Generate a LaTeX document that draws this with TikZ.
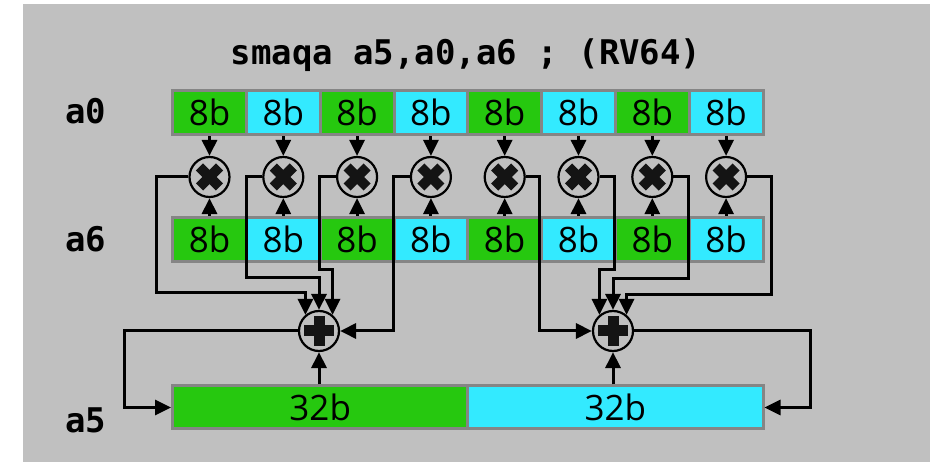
\documentclass[tikz,border=0pt]{standalone}
\usepackage{fontspec}
\setmainfont{Open Sans}
\newfontfamily\codefont{DejaVu Sans Mono}
\usetikzlibrary{arrows.meta,calc}
\definecolor{bg}{HTML}{C0C0C0}
\definecolor{cgreen}{HTML}{26C80F}
\definecolor{ccyan}{HTML}{33EAFF}
\definecolor{cborder}{HTML}{858585}
\begin{document}
\begin{tikzpicture}[x=1pt,y=-1pt,
  cell/.style={draw=cborder, line width=3pt, minimum width=73.8pt, minimum height=44pt,
    inner sep=0pt, font=\fontsize{35}{35}\selectfont},
  bigcell/.style={cell, minimum width=295.2pt, minimum height=43pt},
  lbl/.style={font=\codefont\bfseries\fontsize{34}{34}\selectfont, inner sep=0pt},
  wire/.style={line width=3pt, black},
  arr/.style={wire, -{Triangle[length=16pt,width=15pt]}},
  mul/.style={circle, draw=black, line width=2.2pt, minimum size=40pt, inner sep=0pt, fill=bg,
    path picture={
      \draw[line width=10pt, black!92] ($(path picture bounding box.center)+(-10,-10)$) -- ++(20,20);
      \draw[line width=10pt, black!92] ($(path picture bounding box.center)+(-10,10)$) -- ++(20,-20);
    }},
  add/.style={circle, draw=black, line width=2.2pt, minimum size=40pt, inner sep=0pt, fill=bg,
    path picture={
      \draw[line width=11pt, black!92] ($(path picture bounding box.center)+(-15,0)$) -- ++(30,0);
      \draw[line width=11pt, black!92] ($(path picture bounding box.center)+(0,-15)$) -- ++(0,30);
    }}
]
\useasboundingbox (0,0) rectangle (930,462);
\fill[bg] (23,4) rectangle (930,462);

\node[lbl] (title) at (466,55) {smaqa a5,a0,a6 ; (RV64)};
\node[lbl] (la0) at (85.5,111) {a0};
\node[lbl] (la6) at (85.5,239) {a6};
\node[lbl] (la5) at (85.5,420) {a5};

\foreach \i in {1,...,8} {
  \pgfmathsetmacro{\cx}{209.5+73.8*(\i-1)}
  \ifodd\i \def\cc{cgreen}\else\def\cc{ccyan}\fi
  \node[cell, fill=\cc] (a0c\i) at (\cx,112.7) {8b};
  \node[cell, fill=\cc] (a6c\i) at (\cx,239.4) {8b};
  \node[mul] (m\i) at (\cx,177) {};
  \draw[arr] (a0c\i.south) -- (m\i.north);
  \draw[arr] (a6c\i.north) -- (m\i.south);
}

\node[bigcell, fill=cgreen] (a5L) at (320.2,407.5) {32b};
\node[bigcell, fill=ccyan] (a5R) at (615.4,407.5) {32b};

\node[add] (pL) at (319,331) {};
\node[add] (pR) at (613,331) {};

\draw[arr] (a5L.north -| pL) -- (pL.south);
\draw[arr] (a5R.north -| pR) -- (pR.south);

\coordinate (k1) at (156.7,292.3);
\coordinate (k2) at (246.1,277.7);
\coordinate (k3) at (319.9,270);
\coordinate (k4) at (393.7,331);
\coordinate (k5) at (539,331);
\coordinate (k6) at (614.5,269.3);
\coordinate (k7) at (688.5,279);
\coordinate (k8) at (771.7,294.3);
\coordinate (oL) at (124,407.5);
\coordinate (oR) at (810,407.5);

\draw[arr] (m1.west) -| (k1) -| (pL.130);
\draw[arr] (m2.west) -| (k2) -| (pL.90);
\draw[arr] (m3.west) -| (k3) -| (pL.50);
\draw[arr] (m4.west) -| (k4) -- (pL.east);
\draw[arr] (m5.east) -| (k5) -- (pR.west);
\draw[arr] (m6.east) -| (k6) -| (pR.130);
\draw[arr] (m7.east) -| (k7) -| (pR.90);
\draw[arr] (m8.east) -| (k8) -| (pR.50);

\draw[arr] (pL.west) -| (oL) -- (a5L.west);
\draw[arr] (pR.east) -| (oR) -- (a5R.east);
\end{tikzpicture}
\end{document}
